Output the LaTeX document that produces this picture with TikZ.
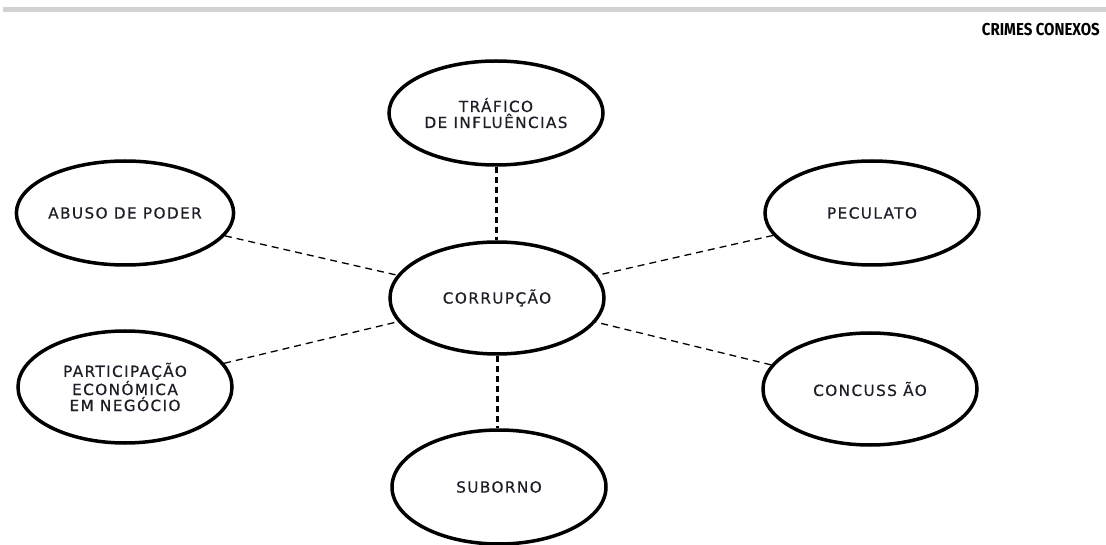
\documentclass[tikz,border=0pt]{standalone}
\usepackage{fontspec}
\setmainfont{Fira Sans}
\newfontfamily\labelfont[LetterSpace=9,FakeBold=0.6]{DejaVu Sans}
\usetikzlibrary{shapes.geometric}
\definecolor{ink}{RGB}{30,30,40}
\tikzset{
  crime/.style={ellipse, draw=black, line width=3.5pt, fill=white, minimum width=214pt, minimum height=104pt, align=center, font=\labelfont\fontsize{15.3}{16}\selectfont, text=ink, inner sep=0pt},
  thicklink/.style={draw=black, line width=3pt, dash pattern=on 6pt off 4pt},
  thinlink/.style={draw=black, line width=1.3pt, dash pattern=on 7pt off 5pt},
}
\begin{document}
\begin{tikzpicture}[x=1pt,y=-1pt]
\useasboundingbox (0,0) rectangle (1106,545);
\fill[gray!35] (3,7) rectangle (1106,12);
\node[anchor=east, font=\bfseries\fontsize{15}{16}\selectfont, inner sep=0pt, yscale=1.15] (title) at (1100,30) {CRIMES CONEXOS};
\node[crime] (cor) at (497,298) [minimum height=112pt] {CORRUPÇÃO};
\node[crime] (tra) at (496,113) {TRÁFICO\\DE INFLUÊNCIAS};
\node[crime] (sub) at (499,487) [minimum height=114pt] {SUBORNO};
\node[crime] (abu) at (125,213) {ABUSO DE PODER};
\node[crime] (pec) at (872,213) {PECULATO};
\node[crime] (par) at (125,387) [minimum height=112pt] {PARTICIPAÇÃO\\ECONÓMICA\\EM NEGÓCIO};
\node[crime] (con) at (870,389) [minimum height=112pt] {CONCUSS ÃO};
\draw[thicklink] (tra.south) -- (tra.south |- cor.north);
\draw[thicklink] (cor.south) -- (cor.south |- sub.north);
\draw[thinlink] (abu) -- (cor);
\draw[thinlink] (pec) -- (cor);
\draw[thinlink] (par) -- (cor);
\draw[thinlink] (con) -- (cor);
\end{tikzpicture}
\end{document}
